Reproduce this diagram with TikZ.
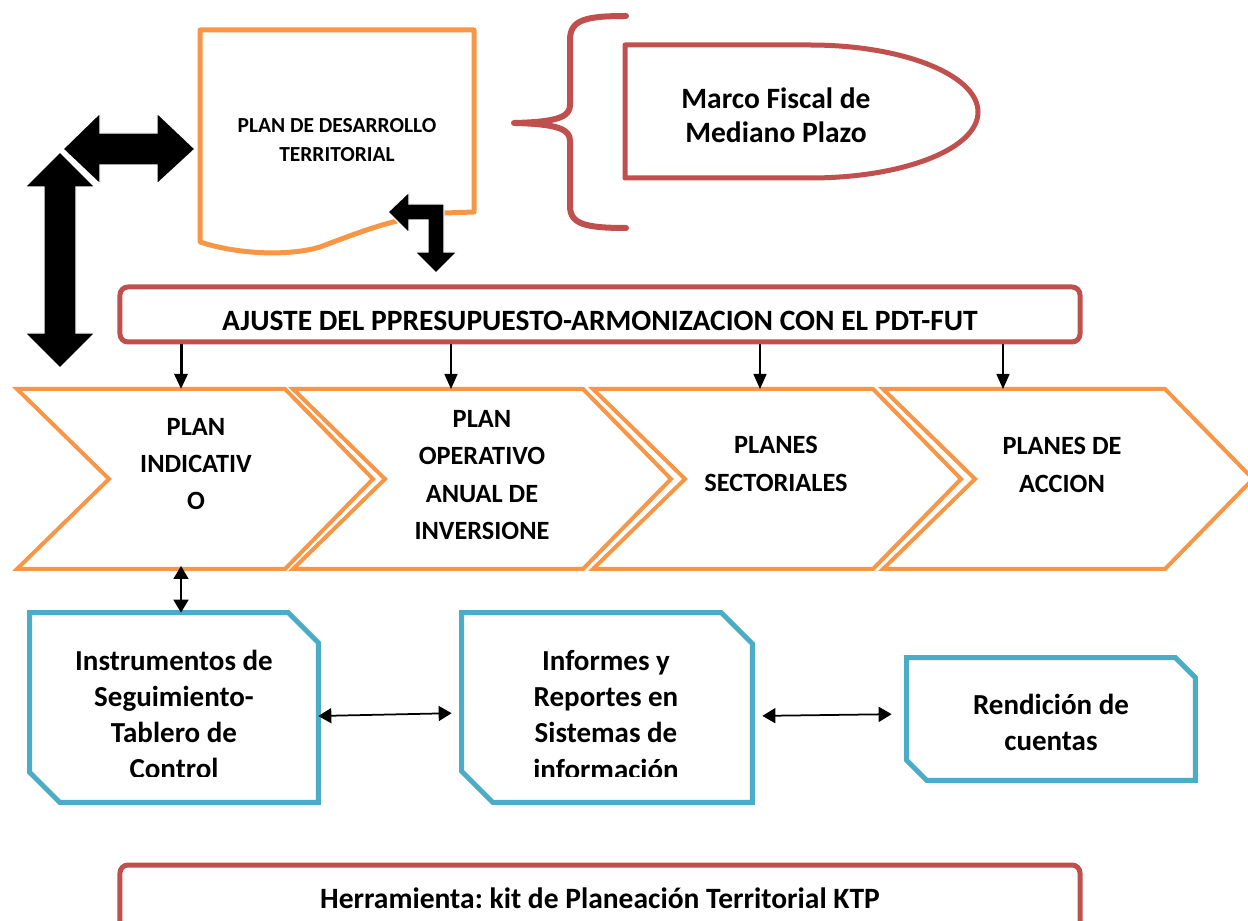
\documentclass[tikz,border=0pt]{standalone}
\usepackage{fontspec}
\setmainfont{Carlito}
\frenchspacing
\usetikzlibrary{arrows.meta,positioning}
\definecolor{naranja}{HTML}{F79646}
\definecolor{rojo}{HTML}{C0504D}
\definecolor{azul}{HTML}{4BACC6}
\tikzset{
  every picture/.style={line join=round, line cap=round, >=Triangle},
  chevron/.style={draw=naranja, line width=0.8mm, line join=miter, line cap=butt},
  documento/.style={draw=naranja, line width=1mm},
  llave/.style={draw=rojo, line width=1.2mm},
  marco/.style={draw=rojo, line width=1mm},
  barra/.style={rectangle, draw=rojo, line width=1mm, rounded corners=1.6mm, minimum width=192mm},
  hueco/.style={rectangle, inner sep=0pt},
  caja/.style={draw=azul, line width=1mm, line join=miter},
  bloque/.style={fill=black, draw=white, line width=0.25mm, line join=miter},
  flecha/.style={-{Triangle[width=2.6mm,length=3mm]}, line width=0.3mm, line cap=butt},
  flechad/.style={{Triangle[width=3mm,length=2.6mm]}-{Triangle[width=3mm,length=2.6mm]}, line width=0.35mm, line cap=butt},
  tchev/.style={font=\fontsize{15}{21.3}\selectfont\bfseries, align=center, inner sep=0pt},
  tcaja/.style={font=\fontsize{16.5}{20.5}\selectfont\bfseries, align=center, inner sep=0pt},
  tmarco/.style={font=\fontsize{16.8}{19.4}\selectfont\bfseries, align=center, inner sep=0pt},
  tdoc/.style={font=\fontsize{12.2}{17}\selectfont\bfseries, align=center, inner sep=0pt},
  tbarra/.style={font=\fontsize{16.8}{18}\selectfont\bfseries, inner sep=0pt},
}

\begin{document}
\begin{tikzpicture}[x=0.2mm,y=-0.2mm]
\useasboundingbox (0,0) rectangle (1248,921);

% plan de desarrollo (documento)
\draw[documento] (200,30) -- (474,30) -- (474,212) -- (445,213)
  .. controls (400,216) and (360,232) .. (320,247)
  .. controls (290,256) and (240,255) .. (200,242) -- cycle;
\node[tdoc] (pdt) at (337,140) {PLAN DE DESARROLLO\\TERRITORIAL};

% flechas gruesas
\fill[bloque] (63,149) -- (100,113) -- (100,133) -- (157,133) -- (157,113) -- (195,149)
  -- (157,184) -- (157,165) -- (100,165) -- (100,184) -- cycle;
\filldraw[bloque] (60,152) -- (95,187) -- (76,187) -- (76,333) -- (95,333) -- (60,368)
  -- (25,333) -- (44,333) -- (44,187) -- (25,187) -- cycle;
\fill[bloque] (388,212) -- (409,192) -- (409,204) -- (444,204) -- (444,252) -- (457,252)
  -- (436,273) -- (415,252) -- (428,252) -- (428,220) -- (409,220) -- (409,233) -- cycle;

% llave y marco fiscal
\draw[llave] (626,16) .. controls (585,16) and (570,20) .. (570,40) -- (570,105)
  .. controls (570,116) and (560,122) .. (514,123)
  .. controls (560,124) and (570,130) .. (570,141) -- (570,206)
  .. controls (570,224) and (585,228) .. (626,228);
\draw[marco] (625,45) -- (810,45) .. controls (903,45) and (978,75) .. (978,112)
  .. controls (978,149) and (903,178) .. (810,178) -- (625,178) -- cycle;
\node[tmarco] (mfmp) at (776,115) {Marco Fiscal de\\Mediano Plazo};

% ajuste del presupuesto
\node[barra, minimum height=11mm] (ajuste) at (600,314.5) {};
\node[tbarra] (ajusteT) at (600,321) {AJUSTE DEL PPRESUPUESTO-ARMONIZACION CON EL PDT-FUT};

% chevrones
\foreach \xl/\xr in {17/285, 293/583, 593/873, 883/1165}
  \draw[chevron] (\xl,389) -- (\xr,389) -- (\xr+88,479) -- (\xr,569) -- (\xl,569) -- (\xl+92,479) -- cycle;
\node[tchev] (pind) at (196,464) {PLAN\\INDICATIV\\O};
\node[tchev] (poai) at (482,475) {PLAN\\OPERATIVO\\ANUAL DE\\INVERSIONE};
\node[tchev] (psec) at (776,464) {PLANES\\SECTORIALES};
\node[tchev] (pacc) at (1062,465) {PLANES DE\\ACCION};

\coordinate (c1) at (181,389);
\coordinate (c2) at (451,389);
\coordinate (c3) at (760,389);
\coordinate (c4) at (1003,389);
\draw[flecha, line width=0.6mm] (ajuste.south -| c1) -- (c1);
\draw[flecha] (ajuste.south -| c2) -- (c2);
\draw[flecha] (ajuste.south -| c3) -- (c3);
\draw[flecha] (ajuste.south -| c4) -- (c4);

% seguimiento
\node[hueco, minimum width=57.6mm, minimum height=37.8mm] (inst) at (174,707.5) {};
\node[hueco, minimum width=58mm, minimum height=37.8mm] (info) at (607,707.5) {};
\node[hueco, minimum width=57.6mm, minimum height=24.4mm] (rend) at (1051,719) {};
\foreach \n/\c in {inst/6mm, info/6.2mm, rend/4mm}
  \draw[caja] (\n.north west) -- ([xshift=-\c]\n.north east) -- ([yshift=-\c]\n.north east)
    -- (\n.south east) -- ([xshift=\c]\n.south west) -- ([yshift=\c]\n.south west) -- cycle;
\begin{scope}
  \clip (0,600) rectangle (800,776);
  \node[tcaja] (instT) at (174,714) {Instrumentos de\\Seguimiento-\\Tablero de\\Control};
  \node[tcaja] (infoT) at (606,715) {Informes y\\Reportes en\\Sistemas de\\información};
\end{scope}
\node[tcaja] (rendT) at (1051,722) {Rendición de\\cuentas};

\coordinate (c5) at (181,566);
\draw[flechad] (c5) -- (inst.north -| c5);
\draw[flechad, shorten >=2mm] (inst.east |- 0,716) -- (info.west |- 0,713);
\draw[flechad, shorten <=2mm, shorten >=3mm] (info.east |- 0,716) -- (rend.west |- 0,714);

% herramienta
\node[barra, minimum height=16mm] (herr) at (600,905) {};
\node[tbarra] (herrT) at (600,898) {Herramienta: kit de Planeación Territorial KTP};
\end{tikzpicture}
\end{document}
